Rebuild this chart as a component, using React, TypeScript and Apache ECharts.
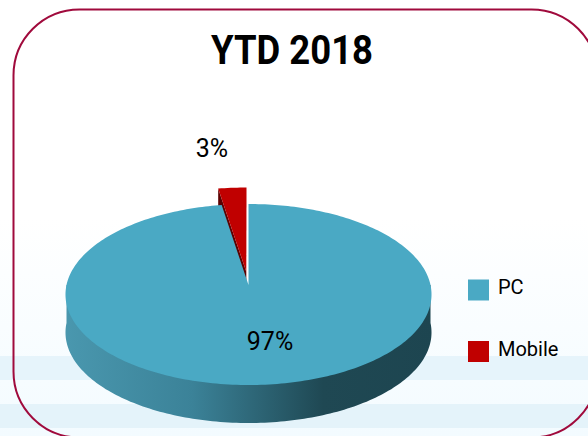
import React, { useEffect, useRef } from "react";
import * as echarts from "echarts";

const title = "YTD 2018";
const categories = ["PC", "Mobile"];
const values = [97.4, 2.6];
const colors = ["#4aa9c4", "#c00000"];

const FONT = "Roboto";
const CX = 248.5, CY = 285, A = 182, B = 89.5, K = 0.105, DEPTH = 38;
const EXPLODE = 0.15, GROW = 1.08;

function project(u: number, v: number): [number, number] {
  const d = 1 + K * v;
  return [CX + (A * u) / d, CY - (B * v) / d];
}
function rim(from: number, to: number, r = 1, ou = 0, ov = 0, dy = 0) {
  const n = Math.max(2, Math.ceil(Math.abs(to - from) / 0.02));
  const pts: number[][] = [];
  for (let i = 0; i <= n; i++) {
    const t = from + ((to - from) * i) / n;
    const p = project(ou + r * Math.sin(t), ov + r * Math.cos(t));
    pts.push([p[0], p[1] + dy]);
  }
  return pts;
}

const total = values.reduce((a, b) => a + b, 0);

function renderPC(_: any, api: any) {
  const sweep = (api.value(0) / total) * Math.PI * 2;
  const top = [[CX, CY], ...rim(0, sweep)];
  const wallPts = rim(Math.PI * 1.5, Math.PI / 2, 1, 0, 0, DEPTH);
  wallPts.unshift(project(-1, 0));
  wallPts.push(project(1, 0));
  const x0 = CX - A - 5, x1 = CX + A + 5;
  return {
    type: "group",
    children: [
      {
        type: "polygon",
        shape: { points: wallPts },
        style: {
          fill: new echarts.graphic.LinearGradient(x0, 0, x1, 0, [
            { offset: 0, color: "#4a98af" },
            { offset: 0.35, color: "#3b8298" },
            { offset: 0.7, color: "#1f4853" },
            { offset: 1, color: "#1d4550" },
          ], true),
        },
      },
      { type: "polygon", shape: { points: top }, style: { fill: colors[0] } },
      { type: "text", x: 270, y: 341, style: { text: Math.round(api.value(0)) + "%", font: `25px ${FONT}`, fill: "#000", align: "center", verticalAlign: "middle" } },
    ],
  };
}

function renderMobile(_: any, api: any) {
  const sweep = (api.value(0) / total) * Math.PI * 2;
  const mid = -sweep / 2;
  const ou = EXPLODE * Math.sin(mid), ov = EXPLODE * Math.cos(mid);
  const apex = project(ou, ov);
  const outer = rim(-sweep, 0, GROW, ou, ov);
  const left = outer[0];
  return {
    type: "group",
    children: [
      {
        type: "polygon",
        shape: { points: [left, apex, [apex[0], apex[1] + DEPTH], [left[0], left[1] + DEPTH]] },
        style: { fill: "#5c0000" },
      },
      { type: "polygon", shape: { points: [apex, ...outer] }, style: { fill: colors[1] } },
      { type: "text", x: 212, y: 148, style: { text: Math.round(api.value(0)) + "%", font: `25px ${FONT}`, fill: "#000", align: "center", verticalAlign: "middle" } },
    ],
  };
}

export default function App() {
  const ref = useRef<HTMLDivElement>(null);
  useEffect(() => {
    document.body.style.margin = "0";
    const chart = echarts.init(ref.current!, undefined, { renderer: "svg" });
    chart.setOption({
      animation: false,
      legend: {
        data: categories,
        orient: "vertical",
        left: 468,
        top: 277,
        padding: 0,
        itemWidth: 21,
        itemHeight: 21,
        itemGap: 38,
        icon: "rect",
        formatter: "{t|{name}}",
        textStyle: {
          rich: { t: { fontFamily: FONT, fontSize: 20, color: "#000", padding: [0, 0, 6, 4] } },
        },
      },
      graphic: [
        {
          type: "rect", z: -10, shape: { x: 0, y: 0, width: 588, height: 436 },
          style: {
            fill: new echarts.graphic.LinearGradient(0, 0, 0, 1, [
              { offset: 0, color: "#ffffff" },
              { offset: 0.5, color: "#ffffff" },
              { offset: 1, color: "#f3fbff" },
            ]),
          },
        },
        { type: "rect", z: -9, shape: { x: 0, y: 356, width: 588, height: 24 }, style: { fill: "#e6f4fb" } },
        { type: "rect", z: -9, shape: { x: 0, y: 404, width: 588, height: 24 }, style: { fill: "#e4f3fa" } },
        { type: "rect", z: -8, shape: { x: 13.5, y: 9.5, width: 584, height: 428, r: 66 }, style: { fill: "none", stroke: "#a00a3c", lineWidth: 2 } },
        {
          type: "text", z: 5, x: 292, y: 50, scaleX: 0.89,
          style: { text: title, font: `bold 41px ${FONT}`, fill: "#000", align: "center", verticalAlign: "middle" },
        },
      ],
      series: [
        { type: "custom", name: categories[1], coordinateSystem: "none", itemStyle: { color: colors[1] }, data: [[values[1]]], renderItem: renderMobile },
        { type: "custom", name: categories[0], coordinateSystem: "none", itemStyle: { color: colors[0] }, data: [[values[0]]], renderItem: renderPC },
      ],
    });
    return () => chart.dispose();
  }, []);
  return <div ref={ref} style={{ width: 588, height: 436 }} />;
}
